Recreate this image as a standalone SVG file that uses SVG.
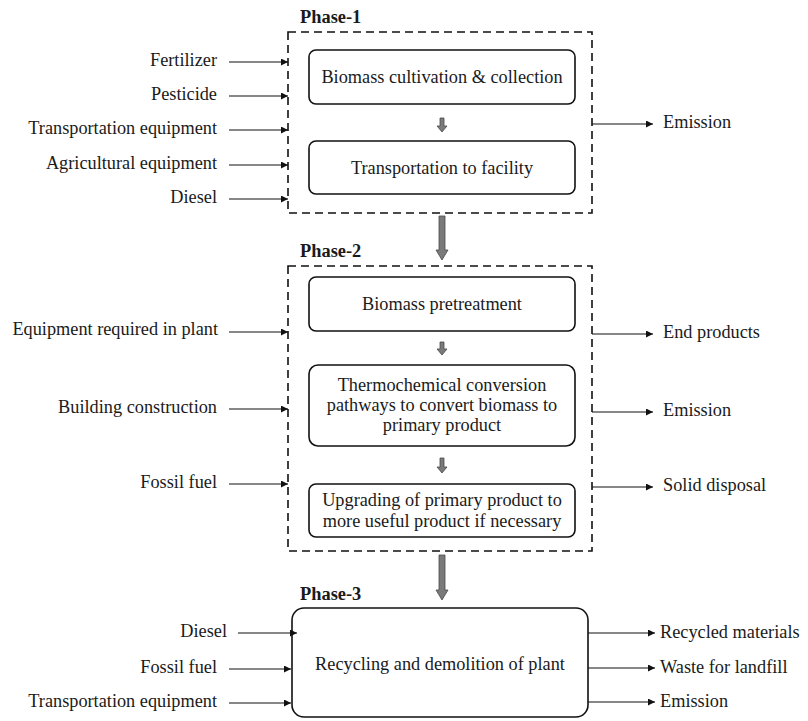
<svg xmlns="http://www.w3.org/2000/svg" width="808" height="721" viewBox="0 0 808 721">
<defs>
<style>
text{font-family:"Liberation Serif","Times New Roman",serif;font-size:18.3px;fill:#1a1a1a}
.ph{font-weight:bold;font-size:18.4px}
.l{text-anchor:end}
.c{text-anchor:middle}
.dash{fill:none;stroke:#111;stroke-width:1.6;stroke-dasharray:8 5}
.box{fill:#fff;stroke:#111;stroke-width:1.6}
.ar{stroke:#111;stroke-width:1.1;fill:none;marker-end:url(#ah)}
.big{fill:#7a7a7a;stroke:#4a4a4a;stroke-width:0.8}
</style>
<marker id="ah" viewBox="0 0 10 10" refX="10" refY="5" markerWidth="9" markerHeight="7" markerUnits="userSpaceOnUse" orient="auto">
<path d="M0,0 L10,5 L0,10 z" fill="#111"/>
</marker>
</defs>
<rect width="808" height="721" fill="#fff"/>

<g id="phase1">
<text class="ph" x="300" y="23">Phase-1</text>
<rect class="dash" x="288" y="32" width="304" height="181"/>
</g>
<g id="biomass-cultivation">
<rect class="box" x="309" y="50" width="266" height="54" rx="7"/>
<text class="c" x="442" y="83">Biomass cultivation &amp; collection</text>
</g>
<g id="transportation-facility">
<rect class="box" x="309" y="141" width="266" height="53" rx="7"/>
<text class="c" x="442" y="174">Transportation to facility</text>
</g>

<g id="phase2">
<text class="ph" x="300" y="257">Phase-2</text>
<rect class="dash" x="288" y="266" width="304" height="285"/>
</g>
<g id="pretreatment">
<rect class="box" x="309" y="277" width="266" height="54" rx="7"/>
<text class="c" x="442" y="310">Biomass pretreatment</text>
</g>
<g id="thermochemical">
<rect class="box" x="309" y="365" width="266" height="81" rx="9"/>
<text class="c" x="442" y="391">Thermochemical  conversion</text>
<text class="c" x="442" y="411">pathways to convert biomass to</text>
<text class="c" x="442" y="431">primary product</text>
</g>
<g id="upgrading">
<rect class="box" x="309" y="484" width="266" height="53" rx="7"/>
<text class="c" x="442" y="506">Upgrading  of primary product to</text>
<text class="c" x="442" y="527">more useful product if necessary</text>
</g>

<g id="phase3">
<text class="ph" x="300" y="600">Phase-3</text>
<rect class="box" x="292" y="608" width="296" height="109" rx="12"/>
<text class="c" x="440" y="670">Recycling and demolition of plant</text>
</g>

<g id="inputs-outputs">
<text class="l" x="217" y="66">Fertilizer</text>
<text class="l" x="217" y="100">Pesticide</text>
<text class="l" x="217" y="134">Transportation equipment</text>
<text class="l" x="217" y="169">Agricultural equipment</text>
<text class="l" x="217" y="203">Diesel</text>
<text x="663" y="128">Emission</text>

<text class="l" x="218" y="335">Equipment  required in plant</text>
<text class="l" x="217" y="413">Building construction</text>
<text class="l" x="217" y="488">Fossil fuel</text>
<text x="663" y="338">End products</text>
<text x="663" y="416">Emission</text>
<text x="663" y="491">Solid disposal</text>

<text class="l" x="227" y="637">Diesel</text>
<text class="l" x="217" y="673">Fossil fuel</text>
<text class="l" x="217" y="707">Transportation equipment</text>
<text x="660" y="638">Recycled materials</text>
<text x="660" y="673">Waste for landfill</text>
<text x="660" y="707">Emission</text>
</g>

<g id="connectors">
<line class="ar" x1="229" y1="62" x2="288" y2="62"/>
<line class="ar" x1="229" y1="96" x2="288" y2="96"/>
<line class="ar" x1="229" y1="130" x2="288" y2="130"/>
<line class="ar" x1="229" y1="165" x2="288" y2="165"/>
<line class="ar" x1="229" y1="199" x2="288" y2="199"/>
<line class="ar" x1="592" y1="124" x2="653" y2="124"/>

<line class="ar" x1="229" y1="332" x2="288" y2="332"/>
<line class="ar" x1="229" y1="409" x2="288" y2="409"/>
<line class="ar" x1="229" y1="484" x2="288" y2="484"/>
<line class="ar" x1="592" y1="334" x2="653" y2="334"/>
<line class="ar" x1="592" y1="412" x2="653" y2="412"/>
<line class="ar" x1="592" y1="487" x2="653" y2="487"/>

<line class="ar" x1="238" y1="633" x2="297" y2="633"/>
<line class="ar" x1="229" y1="669" x2="291" y2="669"/>
<line class="ar" x1="229" y1="703" x2="291" y2="703"/>
<line class="ar" x1="588" y1="633" x2="655" y2="633"/>
<line class="ar" x1="588" y1="668" x2="655" y2="668"/>
<line class="ar" x1="588" y1="702" x2="655" y2="702"/>

<path class="big" d="M440,118 h4 v8 h3 l-5,6 l-5,-6 h3 z"/>
<path class="big" d="M440,342 h4 v7 h3 l-5,6 l-5,-6 h3 z"/>
<path class="big" d="M440,458 h4 v9 h3 l-5,6 l-5,-6 h3 z"/>
<path class="big" d="M439,216 h6 v34 h3 l-6,10 l-6,-10 h3 z"/>
<path class="big" d="M439,555 h6 v35 h3 l-6,10 l-6,-10 h3 z"/>
</g>
</svg>
